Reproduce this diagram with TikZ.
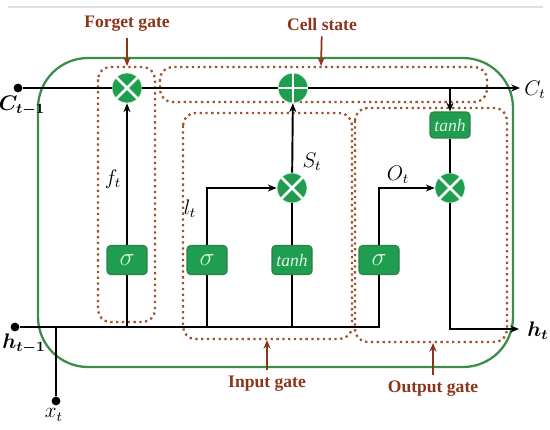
\documentclass[tikz,border=0pt]{standalone}
\usepackage{fontspec}
\setmainfont{Liberation Serif}
\usepackage{bm}
\usetikzlibrary{arrows.meta}
\definecolor{cus-green}{RGB}{31, 158, 80}
\definecolor{cus-green1}{RGB}{46, 125, 74}
\definecolor{cus-frame}{RGB}{62, 140, 76}
\definecolor{cus-brown}{RGB}{160, 82, 45}
\definecolor{cus-red}{RGB}{139, 52, 26}
\definecolor{cus-text}{RGB}{224, 245, 230}

\tikzset{
	gbox/.style={draw=cus-green1, fill=cus-green, rounded corners=2pt, line width=0.6pt,
		minimum width=0.8cm, minimum height=0.58cm, inner sep=0pt, text=cus-text},
	gmul/.style={circle, fill=cus-green, draw=cus-text, line width=0.4pt, minimum size=0.6cm, inner sep=0pt,
		path picture={\draw[white, line width=1.5pt]
			(path picture bounding box.north west) -- (path picture bounding box.south east)
			(path picture bounding box.north east) -- (path picture bounding box.south west);}},
	gadd/.style={circle, fill=cus-green, draw=cus-text, line width=0.4pt, minimum size=0.6cm, inner sep=0pt,
		path picture={\draw[white, line width=1.5pt]
			(path picture bounding box.north) -- (path picture bounding box.south)
			(path picture bounding box.east) -- (path picture bounding box.west);}},
	gate/.style={draw=cus-brown, dotted, line width=1.3pt, rounded corners=0.25cm},
	glabel/.style={text=cus-red, font=\bfseries},
	garrow/.style={draw=cus-red, line width=1pt, -{Stealth[length=5pt,width=4pt]}},
	flow/.style={line width=1.1pt, -{Stealth[length=5pt,width=4pt]}},
	pin/.style={circle, fill=black, inner sep=0pt, minimum size=5pt}
}

\begin{document}
\begin{tikzpicture}[x=0.02cm, y=-0.02cm]
\useasboundingbox (0,0) rectangle (550,429);
\draw [gray!25, line width=0.8pt] (8,7) -- (543,7);

\draw [cus-frame, line width=1.3pt, rounded corners=1cm] (38,58) rectangle (513,367);

\draw [gate] (98,67) rectangle (155,322);
\draw [gate] (160,67) rectangle (487,102);
\draw [gate] (183,113) rectangle (352,339);
\draw [gate] (355,108) rectangle (507,342);

\node [gmul] (mulf) at (127,88) {};
\node [gadd] (add) at (293,88) {};
\node [gmul] (muli) at (292,188) {};
\node [gmul] (mulo) at (450,188) {};

\node [gbox] (sigf) at (127,260) {\Large$\sigma$};
\node [gbox] (sigi) at (207,260) {\Large$\sigma$};
\node [gbox] (tanhi) at (292,260) {\itshape tanh};
\node [gbox] (sigo) at (379,260) {\Large$\sigma$};
\node [gbox, minimum height=0.52cm] (tanho) at (450,125) {\itshape tanh};

\node [pin] (cin) at (18,88) {};
\node [pin] (hin) at (15,327) {};
\node [pin] (xin) at (56,401) {};
\coordinate (cout) at (520,88);
\coordinate (hcor) at (379,327);
\coordinate (hout) at (519,329);

\draw [line width=1.1pt] (cin) -- (mulf);
\draw [line width=1.1pt] (mulf) -- (add);
\draw [flow] (add) -- (cout);
\draw [flow] (tanho |- cin) -- (tanho);
\draw [line width=1.1pt] (hin) -- (hcor) -- (sigo);
\draw [line width=1.1pt] (xin) -- (xin |- hin);
\draw [line width=1.1pt] (sigf |- hin) -- (sigf);
\draw [flow] (sigf) -- (mulf);
\draw [line width=1.1pt] (sigi |- hin) -- (sigi);
\draw [flow] (sigi) |- (muli);
\draw [line width=1.1pt] (tanhi |- hin) -- (tanhi) -- (muli);
\draw [flow] (muli) -- (add);
\draw [flow] (sigo) |- (mulo);
\draw [line width=1.1pt] (tanho) -- (mulo);
\draw [flow] (mulo) |- (hout);

\node (lc0) at (22,106) {\large $\bm{C_{t-1}}$};
\node (lh0) at (24,344) {\large $\bm{h_{t-1}}$};
\node (lx) at (54,415) {\large $x_t$};
\node (lct) at (535,90) {\large $C_t$};
\node (lht) at (538,331) {\large $\bm{h_t}$};
\node (lf) at (113,179) {\large $f_t$};
\node (li) at (190,209) {\large $l_t$};
\node (ls) at (312,162) {\large $S_t$};
\node (lo) at (398,175) {\large $O_t$};

\node [glabel] (fgate) at (127,24) {Forget gate};
\node [glabel] (cgate) at (322,24) {Cell state};
\node [glabel] (igate) at (267,384) {Input gate};
\node [glabel] (ogate) at (433,389) {Output gate};
\coordinate (fend) at (127,66);
\coordinate (cend) at (321,66);
\coordinate (iend) at (267,340);
\coordinate (oend) at (433,343);
\draw [garrow] (fgate) -- (fend);
\draw [garrow] (cgate) -- (cend);
\draw [garrow] (igate) -- (iend);
\draw [garrow] (ogate) -- (oend);
\end{tikzpicture}
\end{document}
